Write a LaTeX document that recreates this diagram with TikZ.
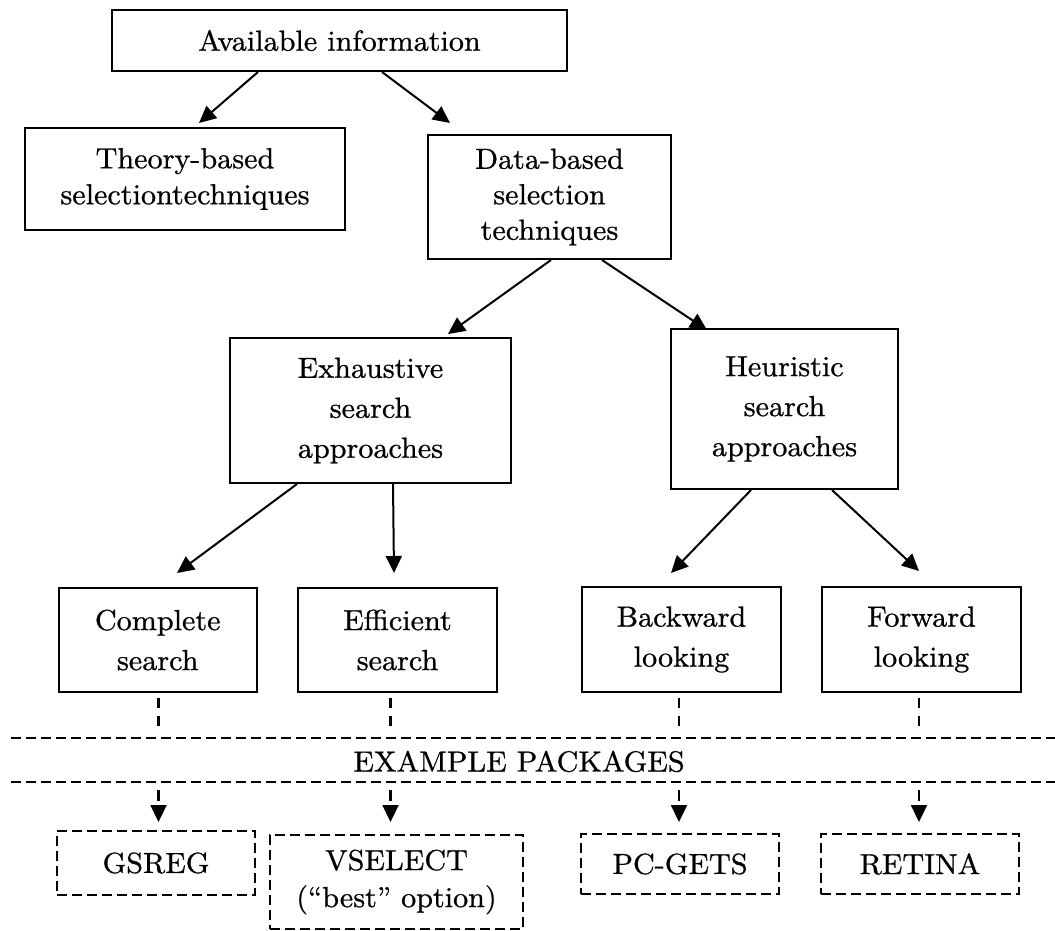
\documentclass[tikz,border=0pt]{standalone}
\usepackage{fontspec}
\setmainfont{lmroman10-regular}[Extension=.otf, FakeStretch=1.04, FakeBold=0.8]
\usetikzlibrary{arrows.meta,calc}
\tikzset{
  box/.style={draw, line width=2pt, inner sep=0pt, align=center,
    font=\fontsize{29}{38}\selectfont},
  pkgbox/.style={box, dash pattern=on 10pt off 5pt},
  arr/.style={line width=2pt, -{Triangle[length=17pt,width=16pt]}},
  stub/.style={line width=2.2pt, dash pattern=on 10pt off 8pt},
  darr/.style={line width=2.2pt, dash pattern=on 11pt off 6pt, -{Triangle[length=17pt,width=16pt]}},
  sep/.style={line width=2pt, dash pattern=on 10pt off 5pt},
  lbl/.style={inner sep=0pt, font=\fontsize{29}{38}\selectfont}
}
\begin{document}
\begin{tikzpicture}[x=1pt,y=-1pt]
\useasboundingbox (0,0) rectangle (1055,931);
% main boxes
\node[box, minimum width=455pt, minimum height=61pt] (avail) at (339.5,40.5) {Available information};
\node[box, minimum width=320pt, minimum height=102pt, font=\fontsize{29}{36}\selectfont] (theory) at (185,179) {Theory-based\\selectiontechniques};
\node[box, minimum width=243pt, minimum height=124pt, font=\fontsize{29}{35.5}\selectfont] (data) at (549.5,197) {Data-based\\selection\\techniques};
\node[box, minimum width=281pt, minimum height=145pt, font=\fontsize{29}{40}\selectfont] (exh) at (370.5,410.5) {Exhaustive\\search\\approaches};
\node[box, minimum width=227pt, minimum height=160pt, font=\fontsize{29}{40}\selectfont] (heur) at (784.5,409) {Heuristic\\search\\approaches};
\node[box, minimum width=198.5pt, minimum height=104pt, font=\fontsize{29}{40}\selectfont] (comp) at (157.75,640) {Complete\\search};
\node[box, minimum width=199pt, minimum height=104pt, font=\fontsize{29}{40}\selectfont] (eff) at (397.5,640) {Efficient\\search};
\node[box, minimum width=199pt, minimum height=105pt, font=\fontsize{29}{40}\selectfont] (back) at (681.5,639.5) {Backward\\looking};
\node[box, minimum width=199pt, minimum height=105pt, font=\fontsize{29}{40}\selectfont] (fwd) at (921.5,639.5) {Forward\\looking};
% package boxes
\node[pkgbox, minimum width=198pt, minimum height=64pt] (gsreg) at (156,863) {GSREG};
\node[pkgbox, minimum width=253pt, minimum height=94pt, font=\fontsize{29}{37}\selectfont] (vsel) at (396.5,882) {VSELECT\\(“best” option)};
\node[pkgbox, minimum width=198pt, minimum height=60pt] (pcgets) at (680,864) {PC-GETS};
\node[pkgbox, minimum width=198pt, minimum height=60pt] (retina) at (920,864) {RETINA};
% arrow tips
\coordinate (t1) at (199,123);
\coordinate (t2) at (450,123);
\coordinate (t3) at (448,334);
\coordinate (t4) at (707,330);
\coordinate (t5) at (177,573);
\coordinate (t6) at (394,573);
\coordinate (t7) at (671,573);
\coordinate (t8) at (919,571);
\draw[arr] ([xshift=147pt]avail.south west) -- (t1);
\draw[arr] ([xshift=271pt]avail.south west) -- (t2);
\draw[arr] ([xshift=124pt]data.south west) -- (t3);
\draw[arr] ([xshift=175pt]data.south west) -- (t4);
\draw[arr] ([xshift=68pt]exh.south west) -- (t5);
\draw[arr] ([xshift=164pt]exh.south west) -- (t6);
\draw[arr] ([xshift=81pt]heur.south west) -- (t7);
\draw[arr] ([xshift=162pt]heur.south west) -- (t8);
% separator lines
\coordinate (L1a) at (11,738);
\coordinate (L1b) at (1055,738);
\coordinate (L2a) at (11,782);
\coordinate (L2b) at (1055,782);
\draw[sep] (L1a) -- (L1b);
\draw[sep] (L2a) -- (L2b);
\node[lbl, anchor=base] (ex) at (519,771.5) {EXAMPLE PACKAGES};
% columns
\coordinate (c1) at (158.5,0);
\coordinate (c2) at (390.5,0);
\coordinate (c3) at (679,0);
\coordinate (c4) at (919,0);
\draw[stub] ($(c1 |- comp.south)+(0,5)$) -- ($(c1 |- L1a)+(0,-11)$);
\draw[stub] ($(c2 |- eff.south)+(0,5)$) -- ($(c2 |- L1a)+(0,-11)$);
\draw[stub] ($(c3 |- back.south)+(0,5)$) -- ($(c3 |- L1a)+(0,-11)$);
\draw[stub] ($(c4 |- fwd.south)+(0,5)$) -- ($(c4 |- L1a)+(0,-11)$);
\draw[darr] ($(c1 |- L2a)+(0,8)$) -- ($(c1 |- gsreg.north)+(0,-8)$);
\draw[darr] ($(c2 |- L2a)+(0,8)$) -- ($(c2 |- vsel.north)+(0,-12)$);
\draw[darr] ($(c3 |- L2a)+(0,8)$) -- ($(c3 |- pcgets.north)+(0,-11)$);
\draw[darr] ($(c4 |- L2a)+(0,8)$) -- ($(c4 |- retina.north)+(0,-11)$);
\end{tikzpicture}
\end{document}
